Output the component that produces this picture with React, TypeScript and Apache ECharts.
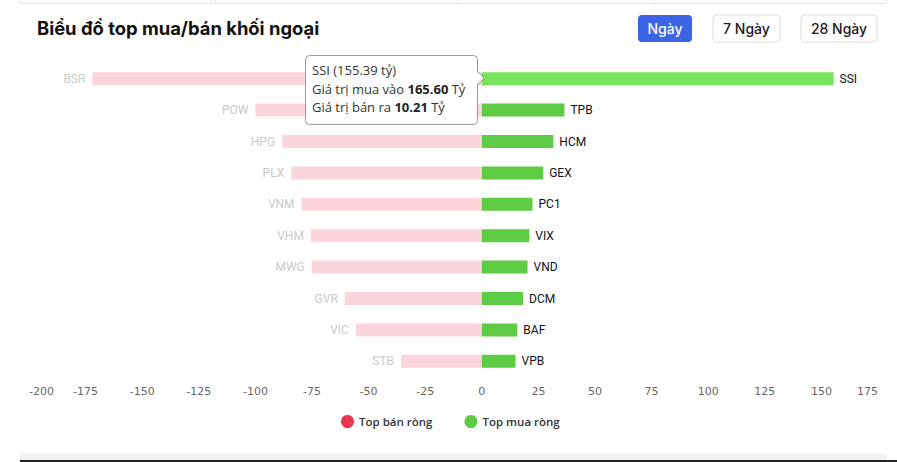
import React, { useEffect, useRef } from "react";
import * as echarts from "echarts";

const sellNames = ["BSR", "POW", "HPG", "PLX", "VNM", "VHM", "MWG", "GVR", "VIC", "STB"];
const sellValues = [-172, -100, -88.2, -84.2, -79.6, -75.5, -75.1, -60.5, -55.6, -35.7];
const buyNames = ["SSI", "TPB", "HCM", "GEX", "PC1", "VIX", "VND", "DCM", "BAF", "VPB"];
const buyValues = [155.39, 36.5, 31.6, 27.1, 22.4, 21.0, 20.2, 18.2, 15.7, 14.9];
const axisMin = -200;
const axisMax = 175;
const axisInterval = 25;
const legendNames = ["Top bán ròng", "Top mua ròng"];
const rangeButtons = ["Ngày", "7 Ngày", "28 Ngày"];
const tipName = "SSI";
const tipNet = "155.39";
const tipBuy = "165.60";
const tipSell = "10.21";

const RED = "#ea3550";
const GREEN = "#5ecb45";
const PINK = "#fcd5dc";
const GREEN_HI = "#77e25a";

export default function App() {
  const ref = useRef<HTMLDivElement>(null);
  useEffect(() => {
    if (!ref.current) return;
    const chart = echarts.init(ref.current, null, { renderer: "svg" });
    const btnX = [638, 713, 801];
    const btnW = [54, 67, 76];
    const buttons = rangeButtons.map((t, i) => ({
      type: "group",
      children: [
        {
          type: "rect",
          shape: { x: btnX[i], y: 15, width: btnW[i], height: 27, r: 4 },
          style: i === 0 ? { fill: "#3c64e6" } : { fill: "#fff", stroke: "#dcdcdc", lineWidth: 1 },
        },
        {
          type: "text",
          x: btnX[i] + btnW[i] / 2,
          y: 28.5,
          style: {
            text: t,
            fill: i === 0 ? "#fff" : "#1a1a1a",
            font: "500 14px Inter",
            textAlign: "center",
            textVerticalAlign: "middle",
          },
        },
      ],
    }));
    const topLines = [20, 210, 215, 457, 653, 886].map((x) => ({
      type: "line",
      shape: { x1: x + 0.5, y1: 0, x2: x + 0.5, y2: 3 },
      style: { stroke: "#e4e4e4", lineWidth: 1 },
    }));
    const tipFont = "13px 'Open Sans'";
    const boldRich = { b: { fontWeight: 700, fontSize: 13, fontFamily: "Open Sans", fill: "#222" } };
    chart.setOption({
      animation: false,
      backgroundColor: "#fff",
      grid: { left: 29, right: 19, top: 63, bottom: 85, containLabel: false },
      legend: {
        left: 336,
        top: 410,
        icon: "circle",
        itemWidth: 13,
        itemHeight: 13,
        itemGap: 32,
        textStyle: { fontSize: 11.5, fontWeight: 600, color: "#333", fontFamily: "Open Sans" },
        data: [
          { name: legendNames[0], itemStyle: { color: RED } },
          { name: legendNames[1], itemStyle: { color: GREEN } },
        ],
      },
      xAxis: {
        type: "value",
        min: axisMin,
        max: axisMax,
        interval: axisInterval,
        axisLine: { show: false },
        axisTick: { show: false },
        splitLine: { show: false },
        axisLabel: {
          color: "#666",
          fontSize: 11,
          fontFamily: "DejaVu Sans",
          margin: 9,
          alignMinLabel: "left",
          alignMaxLabel: "right",
        },
      },
      yAxis: {
        type: "category",
        inverse: true,
        data: buyNames,
        show: false,
      },
      series: [
        {
          name: legendNames[0],
          type: "bar",
          barWidth: 13,
          barGap: "-100%",
          itemStyle: { color: PINK },
          label: {
            show: true,
            position: "left",
            distance: 7,
            color: "#c9c9c9",
            fontSize: 12,
            fontFamily: "Roboto",
            formatter: (p: any) => sellNames[p.dataIndex],
          },
          data: sellValues,
        },
        {
          name: legendNames[1],
          type: "bar",
          barWidth: 13,
          barGap: "-100%",
          itemStyle: { color: GREEN },
          label: {
            show: true,
            position: "right",
            distance: 6,
            color: "#111",
            fontSize: 12,
            fontWeight: "normal",
            fontFamily: "Roboto",
            formatter: (p: any) => buyNames[p.dataIndex],
          },
          data: buyValues.map((v, i) => (i === 0 ? { value: v, itemStyle: { color: GREEN_HI } } : v)),
        },
      ],
      graphic: [
        {
          type: "line",
          shape: { x1: 20, y1: 3.5, x2: 886, y2: 3.5 },
          style: { stroke: "#e4e4e4", lineWidth: 1 },
        },
        ...topLines,
        {
          type: "text",
          x: 37,
          y: 28,
          style: {
            text: "Biểu đồ top mua/bán khối ngoại",
            fill: "#111",
            font: "700 18.4px Inter",
            textVerticalAlign: "middle",
          },
        },
        ...buttons,
        {
          type: "rect",
          z: 100,
          shape: { x: 305.5, y: 55.5, width: 172, height: 69, r: 4 },
          style: { fill: "#fff", stroke: "#9a9a9a", lineWidth: 1 },
        },
        {
          type: "polygon",
          z: 101,
          shape: { points: [[476, 71], [484, 78], [476, 85]] },
          style: { fill: "#fff" },
        },
        {
          type: "polyline",
          z: 102,
          shape: { points: [[477.5, 71], [484, 78], [477.5, 85]] },
          style: { stroke: "#9a9a9a", lineWidth: 1, fill: null },
        },
        {
          type: "text",
          z: 103,
          x: 312,
          y: 70,
          style: {
            text: `${tipName} (${tipNet} tỷ)`,
            fill: "#333",
            font: tipFont,
            textVerticalAlign: "middle",
          },
        },
        {
          type: "text",
          z: 103,
          x: 312,
          y: 89,
          style: {
            text: `Giá trị mua vào {b|${tipBuy}} Tỷ`,
            fill: "#333",
            font: tipFont,
            textVerticalAlign: "middle",
            rich: boldRich,
          },
        },
        {
          type: "text",
          z: 103,
          x: 312,
          y: 107,
          style: {
            text: `Giá trị bán ra {b|${tipSell}} Tỷ`,
            fill: "#333",
            font: tipFont,
            textVerticalAlign: "middle",
            rich: boldRich,
          },
        },
        {
          type: "rect",
          shape: { x: 20, y: 453, width: 867, height: 7 },
          style: { fill: "#f3f3f7" },
        },
        {
          type: "rect",
          shape: { x: 20, y: 460, width: 877, height: 2 },
          style: { fill: "#222" },
        },
      ],
    });
    return () => chart.dispose();
  }, []);
  return (
    <div
      ref={ref}
      style={{ position: "absolute", left: 0, top: 0, width: 897, height: 462, background: "#fff" }}
    />
  );
}
